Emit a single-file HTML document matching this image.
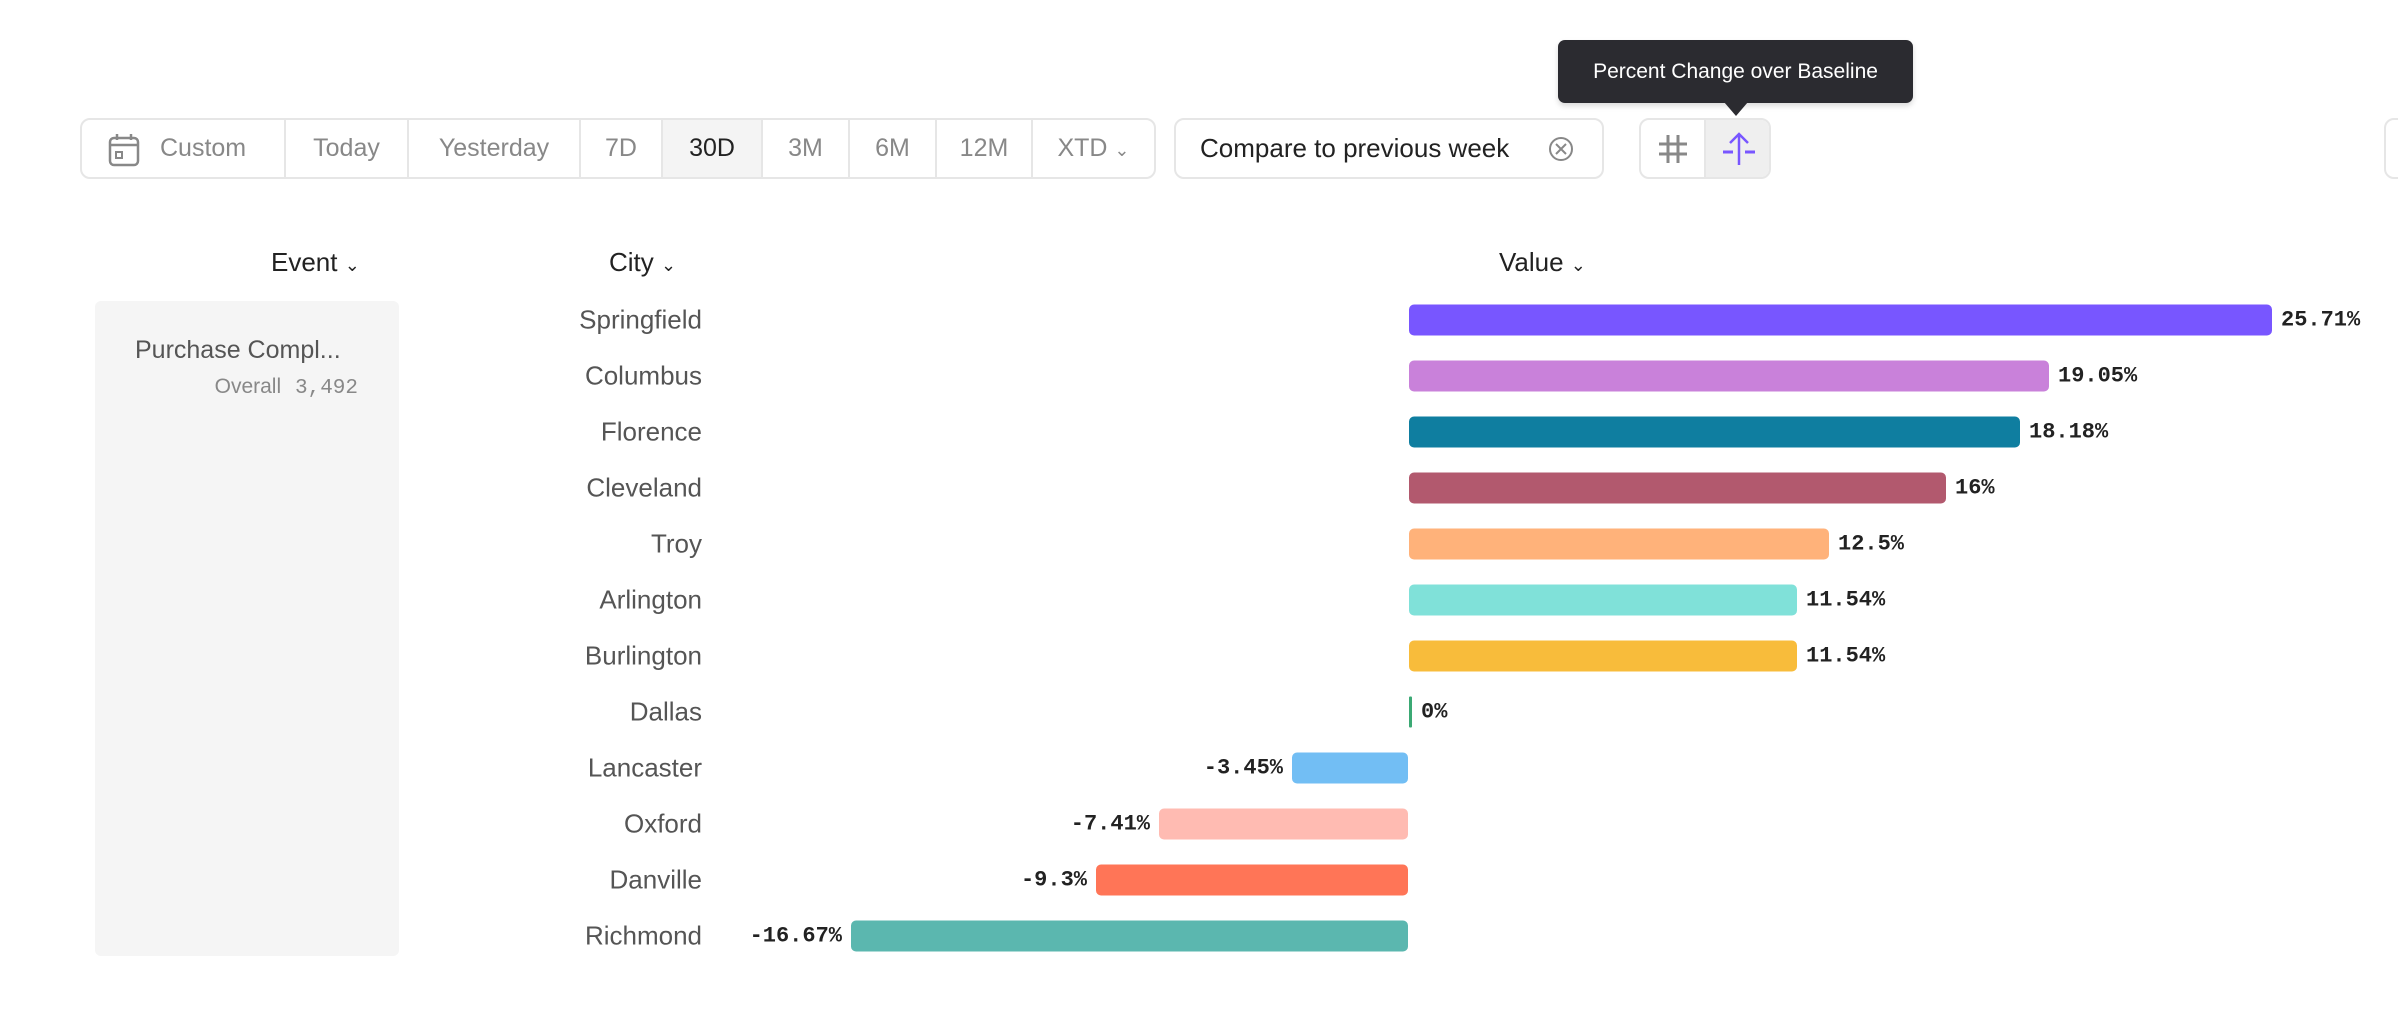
<!DOCTYPE html>
<html><head><meta charset="utf-8"><style>
*{margin:0;padding:0;box-sizing:border-box}
body{width:2398px;height:1022px;background:#fff;position:relative;overflow:hidden;font-family:"Liberation Sans",sans-serif;color:#222}
.a{position:absolute}
.seg{position:absolute;top:118px;height:61px;border:2px solid #e6e6e6;border-radius:10px}
.sd{position:absolute;top:0;bottom:0;border-left:2px solid #e6e6e6}
.t{position:absolute;top:0;height:57px;line-height:57px;font-size:25px;color:#888;text-align:center}
.lab{position:absolute;right:1696px;font-size:26px;color:#555;text-align:right;white-space:nowrap;transform:translateY(-50%)}
.bar{position:absolute;height:31px;border-radius:5px;transform:translateY(-50%)}
.v{position:absolute;font-family:"Liberation Mono",monospace;font-weight:bold;font-size:22px;color:#222;transform:translateY(-50%);white-space:nowrap}
.h{position:absolute;top:247px;font-size:26px;color:#222;white-space:nowrap}
</style></head><body>
<div class="a" style="left:1558px;top:40px;width:355px;height:63px;background:#2b2b30;border-radius:7px;color:#fff;font-size:21px;line-height:63px;text-align:center;box-shadow:0 3px 6px rgba(0,0,0,.15)">Percent Change over Baseline</div>
<div class="a" style="left:1724px;top:102px;width:0;height:0;border-left:12px solid transparent;border-right:12px solid transparent;border-top:14px solid #2b2b30"></div>
<div class="seg" style="left:80px;width:1076px">
 <div style="position:absolute;left:579px;top:0;width:100px;height:57px;background:#f4f4f4"></div>
 <svg class="a" style="left:26px;top:13px" width="32" height="34" viewBox="0 0 32 34"><rect x="2" y="5" width="28" height="27" rx="4" fill="none" stroke="#888" stroke-width="2.5"/><line x1="2" y1="12" x2="30" y2="12" stroke="#888" stroke-width="2.5"/><line x1="9" y1="1" x2="9" y2="7" stroke="#888" stroke-width="2.5"/><line x1="23" y1="1" x2="23" y2="7" stroke="#888" stroke-width="2.5"/><rect x="8" y="19" width="6" height="6" fill="none" stroke="#888" stroke-width="2"/></svg>
 <div class="t" style="left:78px;width:110px;text-align:left">Custom</div>
 <div class="sd" style="left:202px"></div><div class="t" style="left:204px;width:121px">Today</div>
 <div class="sd" style="left:325px"></div><div class="t" style="left:327px;width:170px">Yesterday</div>
 <div class="sd" style="left:497px"></div><div class="t" style="left:499px;width:80px">7D</div>
 <div class="sd" style="left:579px"></div><div class="t" style="left:581px;width:98px;color:#222">30D</div>
 <div class="sd" style="left:679px"></div><div class="t" style="left:681px;width:85px">3M</div>
 <div class="sd" style="left:766px"></div><div class="t" style="left:768px;width:85px">6M</div>
 <div class="sd" style="left:853px"></div><div class="t" style="left:855px;width:94px">12M</div>
 <div class="sd" style="left:949px"></div><div class="t" style="left:951px;width:121px">XTD <span style="font-size:18px">&#8964;</span></div>
</div>
<div class="seg" style="left:1174px;width:430px">
 <div class="t" style="left:24px;color:#222;text-align:left;font-size:26px">Compare to previous week</div>
 <svg class="a" style="left:372px;top:16px" width="26" height="26"><circle cx="13" cy="13" r="11" fill="none" stroke="#888" stroke-width="2"/><path d="M8 8L18 18M18 8L8 18" stroke="#888" stroke-width="2"/></svg>
</div>
<div class="seg" style="left:1639px;width:132px;overflow:hidden">
 <div style="position:absolute;left:64px;top:0;width:68px;height:57px;background:#efefef"></div>
 <div class="sd" style="left:63px"></div>
 <svg class="a" style="left:16px;top:13px" width="32" height="32"><path d="M11 2V30M21 2V30M2 11H30M2 21H30" stroke="#888" stroke-width="3"/></svg>
 <svg class="a" style="left:80px;top:11px" width="36" height="36"><path d="M18 3V34M9 12L18 3L27 12" stroke="#7856ff" stroke-width="2.5" fill="none"/><path d="M2 21H12M24 21H34" stroke="#7856ff" stroke-width="3"/></svg>
</div>
<div class="seg" style="left:2384px;width:40px"></div>
<div class="h" style="left:271px">Event <span style="font-size:18px">&#8964;</span></div>
<div class="h" style="left:609px">City <span style="font-size:18px">&#8964;</span></div>
<div class="h" style="left:1499px">Value <span style="font-size:18px">&#8964;</span></div>
<div class="a" style="left:95px;top:301px;width:304px;height:655px;background:#f5f5f5;border-radius:6px"></div>
<div class="a" style="left:135px;top:336px;font-size:25px;color:#555">Purchase Compl...</div>
<div class="a" style="left:150px;top:375px;width:208px;text-align:right;font-size:21px;color:#888">Overall <span style="font-family:'Liberation Mono',monospace;margin-left:8px">3,492</span></div>
<div class="lab" style="top:320px">Springfield</div><div class="bar" style="top:320px;left:1409px;width:863px;background:#7856ff"></div><div class="v" style="top:320px;left:2281px">25.71%</div>
<div class="lab" style="top:376px">Columbus</div><div class="bar" style="top:376px;left:1409px;width:640px;background:#c981da"></div><div class="v" style="top:376px;left:2058px">19.05%</div>
<div class="lab" style="top:432px">Florence</div><div class="bar" style="top:432px;left:1409px;width:611px;background:#0f7ea0"></div><div class="v" style="top:432px;left:2029px">18.18%</div>
<div class="lab" style="top:488px">Cleveland</div><div class="bar" style="top:488px;left:1409px;width:537px;background:#b2596e"></div><div class="v" style="top:488px;left:1955px">16%</div>
<div class="lab" style="top:544px">Troy</div><div class="bar" style="top:544px;left:1409px;width:420px;background:#ffb27a"></div><div class="v" style="top:544px;left:1838px">12.5%</div>
<div class="lab" style="top:600px">Arlington</div><div class="bar" style="top:600px;left:1409px;width:388px;background:#80e1d9"></div><div class="v" style="top:600px;left:1806px">11.54%</div>
<div class="lab" style="top:656px">Burlington</div><div class="bar" style="top:656px;left:1409px;width:388px;background:#f8bc3b"></div><div class="v" style="top:656px;left:1806px">11.54%</div>
<div class="lab" style="top:712px">Dallas</div><div class="bar" style="top:712px;left:1409px;width:3px;border-radius:1px;background:#3ba974"></div><div class="v" style="top:712px;left:1421px">0%</div>
<div class="lab" style="top:768px">Lancaster</div><div class="bar" style="top:768px;left:1292px;width:116px;background:#72bef4"></div><div class="v" style="top:768px;right:1115px">-3.45%</div>
<div class="lab" style="top:824px">Oxford</div><div class="bar" style="top:824px;left:1159px;width:249px;background:#ffbbb2"></div><div class="v" style="top:824px;right:1248px">-7.41%</div>
<div class="lab" style="top:880px">Danville</div><div class="bar" style="top:880px;left:1096px;width:312px;background:#ff7557"></div><div class="v" style="top:880px;right:1311px">-9.3%</div>
<div class="lab" style="top:936px">Richmond</div><div class="bar" style="top:936px;left:851px;width:557px;background:#5bb7af"></div><div class="v" style="top:936px;right:1556px">-16.67%</div>
</body></html>
